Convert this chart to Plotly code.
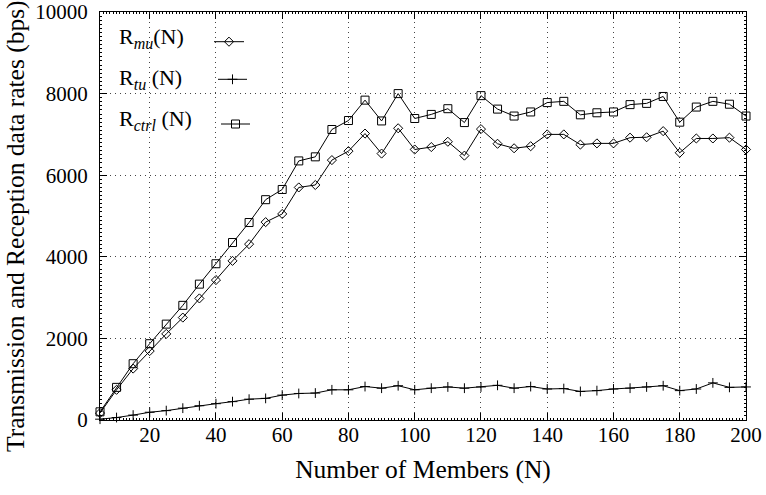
import plotly.graph_objects as go

# ---------------- data ----------------
N = [5, 10, 15, 20, 25, 30, 35, 40, 45, 50, 55, 60, 65, 70, 75, 80, 85, 90, 95, 100,
     105, 110, 115, 120, 125, 130, 135, 140, 145, 150, 155, 160, 165, 170, 175, 180,
     185, 190, 195, 200]
R_mu = [170, 740, 1260, 1690, 2110, 2510, 2980, 3430, 3900, 4310, 4850, 5050, 5700,
        5760, 6370, 6590, 7020, 6530, 7150, 6630, 6690, 6820, 6480, 7130, 6770, 6660,
        6710, 7000, 7000, 6750, 6780, 6780, 6920, 6930, 7080, 6550, 6900, 6900, 6920,
        6630]
R_tu = [20, 60, 120, 190, 230, 290, 350, 400, 450, 510, 530, 610, 650, 660, 740, 740,
        820, 780, 840, 740, 780, 810, 780, 810, 850, 780, 820, 760, 770, 700, 720, 760,
        780, 810, 840, 720, 760, 910, 800, 810]
R_ctrl = [200, 800, 1380, 1870, 2350, 2810, 3330, 3830, 4350, 4840, 5400, 5650, 6350,
          6450, 7120, 7340, 7840, 7330, 8000, 7390, 7490, 7630, 7290, 7950, 7620, 7450,
          7550, 7780, 7810, 7480, 7530, 7550, 7730, 7760, 7930, 7300, 7670, 7810, 7740,
          7450]
X_TICKS = [20, 40, 60, 80, 100, 120, 140, 160, 180, 200]
Y_TICKS = [0, 2000, 4000, 6000, 8000, 10000]
SUB = '<sub><span style="font-size:16px"><i>{}</i></span></sub>'
LEGEND_LABELS = ["R" + SUB.format("mu") + "(N)", "R" + SUB.format("tu") + " (N)",
                 "R" + SUB.format("ctrl") + " (N)"]
X_TITLE = "Number of Members (N)"
Y_TITLE = "Transmission and Reception data rates (bps)"

# ---------------- layout constants ----------------
FONT = "Liberation Serif"
W, H = 766, 495
# plot area in page pixels
SL, SR, ST, SB = 100, 746, 12, 420
ML, MT = SL, ST
MR, MB = W - SR, H - SB
PW, PH = SR - SL, SB - ST


def pxx(px):
    return (px - SL) / PW


def pxy(py):
    return (SB - py) / PH


line_style = dict(color="black", width=1)
series = [
    (R_mu, "diamond-open", 7),
    (R_tu, "cross-thin-open", 7),
    (R_ctrl, "square-open", 8),
]

fig = go.Figure()
for vals, sym, size in series:
    fig.add_trace(go.Scatter(
        x=N, y=vals, mode="lines+markers", line=line_style,
        marker=dict(symbol=sym, size=size, color="black",
                    line=dict(width=1, color="black")),
        showlegend=False, cliponaxis=False))

# ---------------- manual legend (gnuplot style: text then sample) ----------------
text_left = [117, 117, 117]
text_mid = [38, 79, 120]
sample_x = [(214, 244), (218, 247), (221, 250)]
sample_y = [41.7, 79.3, 124]

shapes = [dict(type="rect", xref="paper", yref="paper", x0=pxx(SL + 1), x1=pxx(278),
               y0=pxy(170), y1=pxy(ST + 1), fillcolor="white", line=dict(width=0),
               layer="between")]
annotations = []
for i, (vals, sym, size) in enumerate(series):
    annotations.append(dict(
        text=LEGEND_LABELS[i], xref="paper", yref="paper", x=pxx(text_left[i]),
        y=pxy(text_mid[i]), xanchor="left", yanchor="middle", showarrow=False,
        font=dict(family=FONT, size=22, color="black")))
    x0, x1 = sample_x[i]
    shapes.append(dict(type="line", xref="paper", yref="paper", x0=pxx(x0), x1=pxx(x1),
                       y0=pxy(sample_y[i]), y1=pxy(sample_y[i]),
                       line=dict(color="black", width=1), layer="above"))
    fig.add_trace(go.Scatter(
        x=[pxx((x0 + x1) / 2)], y=[pxy(sample_y[i])], xaxis="x2", yaxis="y2",
        mode="markers", marker=dict(symbol=sym, size=size, color="black",
                                    line=dict(width=1, color="black")),
        showlegend=False, cliponaxis=False, hoverinfo="skip"))

# y-axis title as a rotated annotation so its centre can sit slightly below the plot centre
annotations.append(dict(
    text=Y_TITLE, textangle=-90, xref="paper", yref="paper", x=pxx(15), y=pxy(226),
    xanchor="center", yanchor="middle", showarrow=False,
    font=dict(family=FONT, size=25.5, color="black")))


def tick_font():
    return dict(family=FONT, size=21, color="black")


def title_font():
    return dict(family=FONT, size=25.5, color="black")


def axis_common():
    return dict(
        showline=True, linecolor="black", linewidth=1, mirror="allticks",
        ticks="inside", ticklen=7, tickcolor="black", tickwidth=1,
        showgrid=True, gridcolor="#444", griddash="1px,4px", gridwidth=1,
        zeroline=False, automargin=False, ticklabeloverflow="allow",
    )


fig.update_layout(
    width=W, height=H,
    margin=dict(l=ML, r=MR, t=MT, b=MB, pad=0),
    paper_bgcolor="white", plot_bgcolor="white",
    font=dict(family=FONT, color="black"),
    xaxis=dict(range=[5, 200], tickmode="array", tickvals=X_TICKS,
               ticktext=[str(v) for v in X_TICKS], tickfont=tick_font(),
               ticklabelstandoff=-4,
               title=dict(text=X_TITLE, font=title_font(), standoff=13),
               minor=dict(dtick=1, ticklen=2, ticks="inside", tickcolor="black",
                          showgrid=False),
               **axis_common()),
    yaxis=dict(range=[0, 10000], tickmode="array", tickvals=Y_TICKS,
               ticktext=[str(v) for v in Y_TICKS], tickfont=tick_font(),
               ticklabelstandoff=7,
               minor=dict(dtick=100, ticklen=2, ticks="inside", tickcolor="black",
                          showgrid=False),
               **axis_common()),
    xaxis2=dict(overlaying="x", range=[0, 1], visible=False),
    yaxis2=dict(overlaying="y", range=[0, 1], visible=False),
    shapes=shapes, annotations=annotations,
)

# remove the browser's default 8px page margin so the figure sits at the window origin
fig.write_html("out.html", config={"displayModeBar": False},
               post_script="document.body.style.margin='0';document.body.style.overflow='hidden';")
